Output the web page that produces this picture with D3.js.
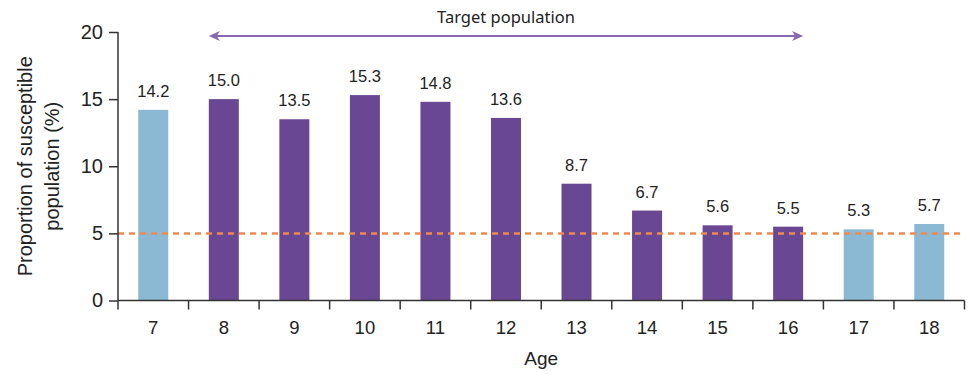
<!DOCTYPE html>
<html>
<head>
<meta charset="utf-8">
<script src="https://cdn.jsdelivr.net/npm/d3@7"></script>
<style>
  body { margin: 0; background: #fff; }
  svg { font-family: "Liberation Sans", Arial, sans-serif; }
</style>
</head>
<body>
<svg width="972" height="374"></svg>
<script>
// data
var ages = ["7", "8", "9", "10", "11", "12", "13", "14", "15", "16", "17", "18"];
var proportions = [14.2, 15.0, 13.5, 15.3, 14.8, 13.6, 8.7, 6.7, 5.6, 5.5, 5.3, 5.7];
var targetAges = ["8", "9", "10", "11", "12", "13", "14", "15", "16"];
var yTicks = [0, 5, 10, 15, 20];
var threshold = 5;

var svg = d3.select("svg");
var plotLeft = 118, plotRight = 964.5, plotTop = 32, plotBottom = 300.5;

var x = d3.scaleBand()
    .domain(ages)
    .range([plotLeft, plotRight])
    .padding(0);
var barW = 30;

var y = d3.scaleLinear()
    .domain([0, 20])
    .range([plotBottom, plotTop]);

var axisColor = "#333";

// bars
svg.append("g").selectAll("rect")
    .data(ages)
    .enter().append("rect")
    .attr("x", function(d) { return x(d) + x.bandwidth() / 2 - barW / 2; })
    .attr("width", barW)
    .attr("y", function(d, i) { return y(proportions[i]); })
    .attr("height", function(d, i) { return y(0) - y(proportions[i]); })
    .attr("fill", function(d) { return targetAges.indexOf(d) >= 0 ? "#6a4793" : "#8bb9d3"; });

// value labels
svg.append("g").selectAll("text")
    .data(ages)
    .enter().append("text")
    .attr("x", function(d) { return x(d) + x.bandwidth() / 2; })
    .attr("y", function(d, i) { return y(proportions[i]) - 13; })
    .attr("text-anchor", "middle")
    .style("font-size", "16.5px")
    .attr("fill", "#222")
    .text(function(d, i) { return proportions[i].toFixed(1); });

// threshold line
svg.append("line")
    .attr("x1", plotLeft)
    .attr("x2", plotRight)
    .attr("y1", y(threshold))
    .attr("y2", y(threshold))
    .attr("stroke", "#f0894e")
    .attr("stroke-width", 2.5)
    .attr("stroke-dasharray", "6,5");

// y axis
var yAxis = svg.append("g")
    .attr("transform", "translate(" + plotLeft + ",0)")
    .call(d3.axisLeft(y).tickValues(yTicks).tickSize(9).tickPadding(6));
yAxis.select(".domain").attr("stroke", axisColor).attr("stroke-width", 1.5)
    .attr("d", "M0," + plotTop + "V" + plotBottom);
yAxis.selectAll(".tick line").attr("stroke", axisColor).attr("stroke-width", 1.5);
yAxis.selectAll(".tick text")
    .style("font-size", "20px")
    .style("font-family", "Liberation Sans, Arial, sans-serif")
    .attr("fill", "#222");

// x axis: ticks sit between the categories
var xAxis = svg.append("g");
xAxis.append("line")
    .attr("x1", plotLeft)
    .attr("x2", plotRight)
    .attr("y1", plotBottom)
    .attr("y2", plotBottom)
    .attr("stroke", axisColor)
    .attr("stroke-width", 1.5);
var bounds = ages.map(function(d) { return x(d); }).concat([plotRight]);
xAxis.selectAll(".xt")
    .data(bounds)
    .enter().append("line")
    .attr("x1", function(d) { return d; })
    .attr("x2", function(d) { return d; })
    .attr("y1", plotBottom)
    .attr("y2", plotBottom + 9)
    .attr("stroke", axisColor)
    .attr("stroke-width", 1.5);
xAxis.selectAll(".xl")
    .data(ages)
    .enter().append("text")
    .attr("x", function(d) { return x(d) + x.bandwidth() / 2; })
    .attr("y", plotBottom + 33)
    .attr("text-anchor", "middle")
    .style("font-size", "18.5px")
    .attr("fill", "#222")
    .text(function(d) { return d; });

// axis titles
svg.append("text")
    .attr("x", (plotLeft + plotRight) / 2)
    .attr("y", 365)
    .attr("text-anchor", "middle")
    .style("font-size", "19px")
    .attr("fill", "#222")
    .text("Age");

var yTitle = svg.append("text")
    .attr("transform", "translate(0," + ((plotTop + plotBottom) / 2) + ") rotate(-90)")
    .attr("text-anchor", "middle")
    .style("font-size", "20px")
    .attr("fill", "#222");
yTitle.append("tspan").attr("x", 0).attr("y", 32).text("Proportion of susceptible");
yTitle.append("tspan").attr("x", 0).attr("y", 59).text("population (%)");

// target population arrow
var ax1 = x(targetAges[0]) + x.bandwidth() / 2 - barW / 2;
var ax2 = x(targetAges[targetAges.length - 1]) + x.bandwidth() / 2 + barW / 2;
var ay = 36;
var arrowColor = "#8a68b0";
svg.append("line")
    .attr("x1", ax1 + 4)
    .attr("x2", ax2 - 4)
    .attr("y1", ay)
    .attr("y2", ay)
    .attr("stroke", arrowColor)
    .attr("stroke-width", 2);
svg.append("path")
    .attr("d", "M" + ax1 + "," + ay + "L" + (ax1 + 11) + "," + (ay - 5) + "L" + (ax1 + 8) + "," + ay + "L" + (ax1 + 11) + "," + (ay + 5) + "Z")
    .attr("fill", arrowColor);
svg.append("path")
    .attr("d", "M" + ax2 + "," + ay + "L" + (ax2 - 11) + "," + (ay - 5) + "L" + (ax2 - 8) + "," + ay + "L" + (ax2 - 11) + "," + (ay + 5) + "Z")
    .attr("fill", arrowColor);
svg.append("text")
    .attr("x", (ax1 + ax2) / 2)
    .attr("y", 23)
    .attr("text-anchor", "middle")
    .style("font-family", "Noto Sans, sans-serif")
    .style("font-size", "16.5px")
    .attr("fill", "#222")
    .text("Target population");
</script>
</body>
</html>
